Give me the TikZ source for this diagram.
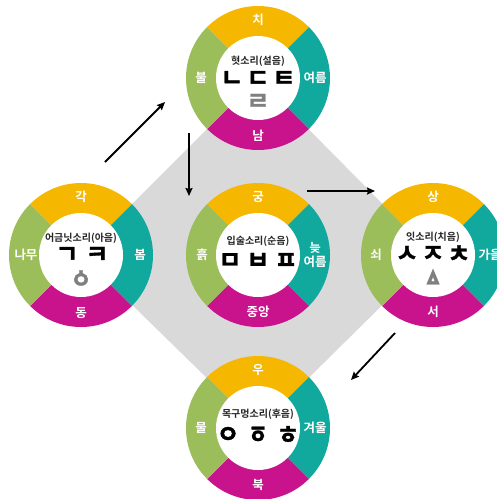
\documentclass[tikz,border=0pt]{standalone}
\usepackage{fontspec}
\newfontfamily\kr{Noto Sans CJK KR}[BoldFont={Noto Sans CJK KR Bold}]
\newfontfamily\krheavy{Noto Sans CJK KR Bold}[FakeBold=1.2]
\usetikzlibrary{arrows.meta}

\definecolor{segyellow}{HTML}{F6B700}
\definecolor{segteal}{HTML}{11A89D}
\definecolor{segmagenta}{HTML}{C8138D}
\definecolor{seggreen}{HTML}{9BBD5A}
\definecolor{diamondgray}{HTML}{D9D9D9}
\definecolor{oldgray}{HTML}{7F7F7F}

\newcommand\ringR{72}
\newcommand\holeR{42}

% four coloured quarters and a white hole around a named centre
\newcommand\colorring[1]{%
  \fill[segyellow]  (#1) -- ++(225:\ringR) arc[start angle=225,end angle=315,radius=\ringR] -- cycle;
  \fill[segteal]    (#1) -- ++(315:\ringR) arc[start angle=315,end angle=405,radius=\ringR] -- cycle;
  \fill[segmagenta] (#1) -- ++(45:\ringR)  arc[start angle=45,end angle=135,radius=\ringR] -- cycle;
  \fill[seggreen]   (#1) -- ++(135:\ringR) arc[start angle=135,end angle=225,radius=\ringR] -- cycle;
  \fill[white] (#1) circle[radius=\holeR];
}

\tikzset{
  seglabel/.style={text=white, font=\kr\bfseries\fontsize{12.5}{13.5}\selectfont, inner sep=0pt, align=center},
  ringtitle/.style={font=\kr\bfseries\fontsize{10}{10}\selectfont, text=black!85, inner sep=0pt},
  jamo/.style={font=\krheavy\fontsize{25}{25}\selectfont, inner sep=0pt},
  oldjamo/.style={jamo, text=oldgray},
  flow/.style={line width=1.8pt, -{Stealth[length=8pt,width=7pt,inset=1pt]}},
}

\begin{document}
\begin{tikzpicture}[x=1pt,y=-1pt]
\useasboundingbox (0,0) rectangle (497,499);

% ring centres
\coordinate (T) at (258,78);
\coordinate (L) at (81,255);
\coordinate (C) at (258,255);
\coordinate (R) at (433,255);
\coordinate (B) at (258,428);

% grey diamond joining the outer rings
\fill[diamondgray] (T) -- (R) -- (B) -- (L) -- cycle;

\colorring{T}
\colorring{L}
\colorring{C}
\colorring{R}
\colorring{B}

% ---- top ring: tongue sounds
\node[seglabel] (Ttop) at ([shift={(0,-58)}]T) {치};
\node[seglabel] (Tright) at ([shift={(57,0)}]T) {여름};
\node[seglabel] (Tbot) at ([shift={(0,58)}]T) {남};
\node[seglabel] (Tleft) at ([shift={(-57,0)}]T) {불};
\node[ringtitle] (Ttitle) at ([shift={(0,-17)}]T) {혓소리(설음)};
\node[jamo] (T1) at ([shift={(-26,1)}]T) {ㄴ};
\node[jamo] (T2) at ([shift={(0,1)}]T) {ㄷ};
\node[jamo] (T3) at ([shift={(26,1)}]T) {ㅌ};
\node[oldjamo] (T4) at ([shift={(0,24)}]T) {ㄹ};

% ---- left ring: molar sounds
\node[seglabel] (Ltop) at ([shift={(0,-58)}]L) {각};
\node[seglabel] (Lright) at ([shift={(59,0)}]L) {봄};
\node[seglabel] (Lbot) at ([shift={(0,58)}]L) {동};
\node[seglabel] (Lleft) at ([shift={(-55,0)}]L) {나무};
\node[ringtitle] (Ltitle) at ([shift={(0,-17)}]L) {어금닛소리(아음)};
\node[jamo] (L1) at ([shift={(-14,0)}]L) {ㄱ};
\node[jamo] (L2) at ([shift={(16,0)}]L) {ㅋ};
\node[oldjamo] (L3) at ([shift={(0,24)}]L) {ㆁ};

% ---- centre ring: lip sounds
\node[seglabel] (Ctop) at ([shift={(0,-58)}]C) {궁};
\node[seglabel] (Cright) at ([shift={(57,0)}]C) {늦\\여름};
\node[seglabel] (Cbot) at ([shift={(0,57)}]C) {중앙};
\node[seglabel] (Cleft) at ([shift={(-56,0)}]C) {흙};
\node[ringtitle] (Ctitle) at ([shift={(0,-14)}]C) {입술소리(순음)};
\node[jamo] (C1) at ([shift={(-28,6)}]C) {ㅁ};
\node[jamo] (C2) at ([shift={(0,6)}]C) {ㅂ};
\node[jamo] (C3) at ([shift={(28,6)}]C) {ㅍ};

% ---- right ring: teeth sounds
\node[seglabel] (Rtop) at ([shift={(0,-58)}]R) {상};
\node[seglabel] (Rright) at ([shift={(57,0)}]R) {가을};
\node[seglabel] (Rbot) at ([shift={(0,57)}]R) {서};
\node[seglabel] (Rleft) at ([shift={(-57,0)}]R) {쇠};
\node[ringtitle] (Rtitle) at ([shift={(0,-18)}]R) {잇소리(치음)};
\node[jamo] (R1) at ([shift={(-26,-1)}]R) {ㅅ};
\node[jamo] (R2) at ([shift={(0,-1)}]R) {ㅈ};
\node[jamo] (R3) at ([shift={(26,-1)}]R) {ㅊ};
\node[oldjamo] (R4) at ([shift={(0,23)}]R) {ㅿ};

% ---- bottom ring: throat sounds
\node[seglabel] (Btop) at ([shift={(0,-58)}]B) {우};
\node[seglabel] (Bright) at ([shift={(57,0)}]B) {겨울};
\node[seglabel] (Bbot) at ([shift={(0,57)}]B) {북};
\node[seglabel] (Bleft) at ([shift={(-57,0)}]B) {물};
\node[ringtitle] (Btitle) at ([shift={(0,-14)}]B) {목구멍소리(후음)};
\node[jamo] (B1) at ([shift={(-30,7)}]B) {ㅇ};
\node[jamo] (B2) at ([shift={(0,7)}]B) {ㆆ};
\node[jamo] (B3) at ([shift={(30,7)}]B) {ㅎ};

% ---- order of the five rings
\coordinate (a1s) at (105,162);
\coordinate (a1e) at (165,102);
\coordinate (a2s) at (189,133);
\coordinate (a2e) at (189,196);
\coordinate (a3s) at (307,191);
\coordinate (a3e) at (375,191);
\coordinate (a4s) at (395,333);
\coordinate (a4e) at (351,380);
\draw[flow] (a1s) -- (a1e);
\draw[flow] (a2s) -- (a2e);
\draw[flow] (a3s) -- (a3e);
\draw[flow] (a4s) -- (a4e);
\end{tikzpicture}
\end{document}
